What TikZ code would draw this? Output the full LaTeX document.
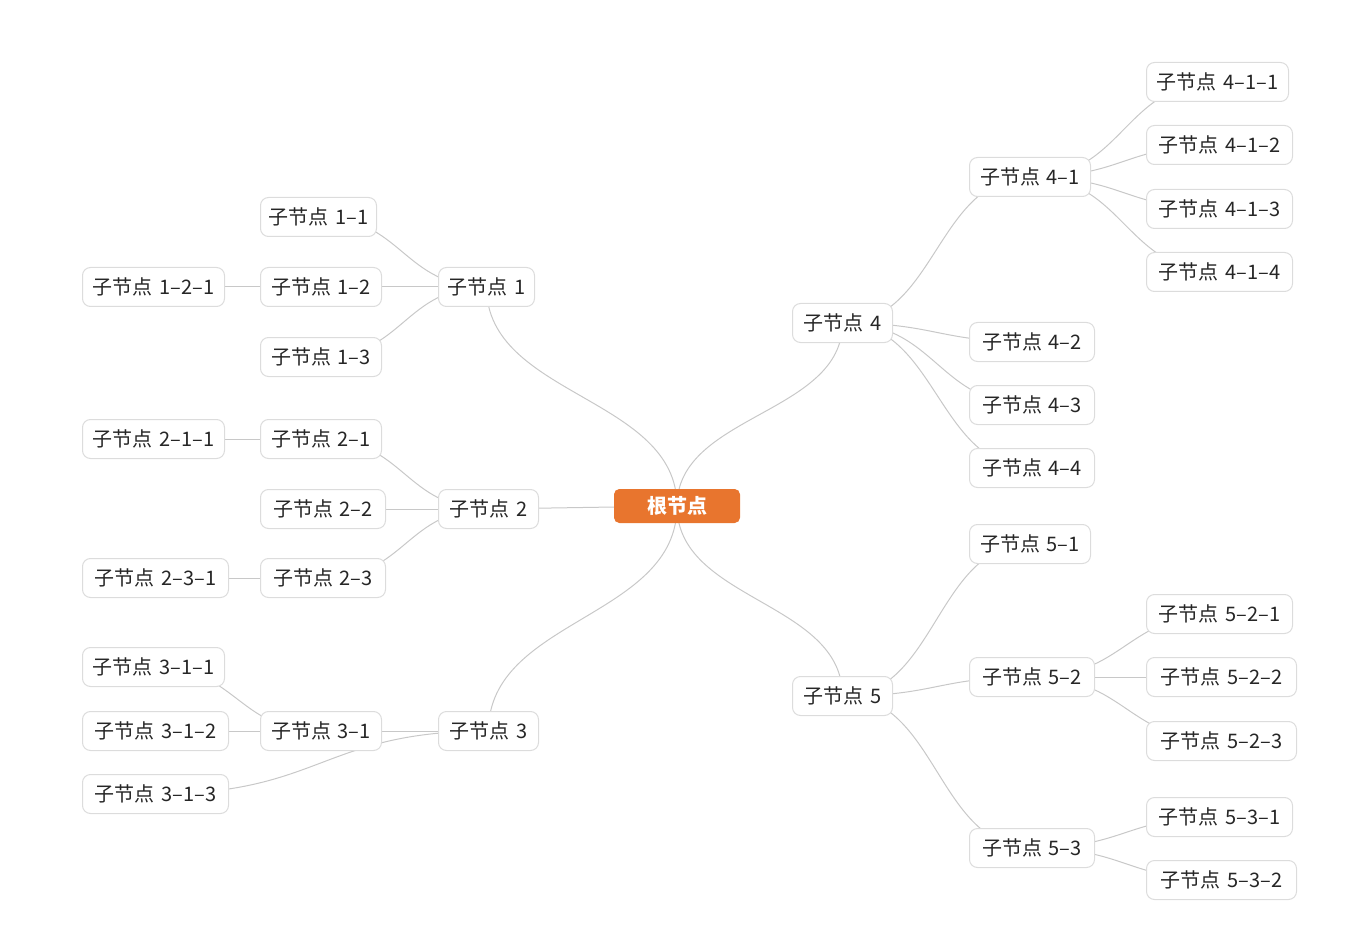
\documentclass[tikz,border=0pt]{standalone}
\usepackage{fontspec}
\setmainfont{Noto Sans CJK SC}
\newfontfamily\topicf{Noto Sans CJK SC}[WordSpace=1.45]
\usetikzlibrary{calc,backgrounds}
\definecolor{edgec}{RGB}{200,200,200}
\definecolor{boxc}{RGB}{220,220,220}
\definecolor{txtc}{RGB}{38,38,38}
\definecolor{rootc}{RGB}{232,117,46}
\begin{document}
\begin{tikzpicture}[x=0.75pt,y=-0.75pt,
  topic/.style={draw=boxc,line width=0.75pt,fill=white,rounded corners=6pt,
    minimum height=29.25pt,inner xsep=3pt,inner ysep=0pt,anchor=west,
    text=txtc,font=\topicf\fontsize{15pt}{17pt}\selectfont},
  bw/.style={minimum width=#1*0.75pt},
  rootbox/.style={fill=rootc,rounded corners=4pt,minimum width=94.5pt,
    minimum height=25.5pt,inner sep=0pt,text=white,
    font=\fontsize{15pt}{17pt}\selectfont\bfseries},
  link/.style={draw=edgec,line width=0.75pt},
  hc/.style={to path={let \p1=(\tikztostart),\p2=(\tikztotarget) in
    .. controls ({0.5*\x1+0.5*\x2},\y1) and ({0.5*\x1+0.5*\x2},\y2) .. (\tikztotarget)}},
  vc/.style={to path={let \p1=(\tikztostart),\p2=(\tikztotarget) in
    .. controls (\x1,{0.5*\y1+0.5*\y2}) and (\x2,{0.5*\y1+0.5*\y2}) .. (\tikztotarget)}}]
\useasboundingbox (0,0) rectangle (1360,952);
\node[rootbox] (root) at (677,506) {根节点};
% left side
\node[topic,bw=96] (n1) at (438,287) {子节点 1};
\node[topic,bw=100] (n2) at (438,509) {子节点 2};
\node[topic,bw=100] (n3) at (438,731) {子节点 3};
\node[topic,bw=116] (n11) at (260,217) {子节点 1–1};
\node[topic,bw=121] (n12) at (260,287) {子节点 1–2};
\node[topic,bw=121] (n13) at (260,357) {子节点 1–3};
\node[topic,bw=142] (n121) at (82,287) {子节点 1–2–1};
\node[topic,bw=121] (n21) at (260,439) {子节点 2–1};
\node[topic,bw=125] (n22) at (260,509) {子节点 2–2};
\node[topic,bw=125] (n23) at (260,578) {子节点 2–3};
\node[topic,bw=142] (n211) at (82,439) {子节点 2–1–1};
\node[topic,bw=146] (n231) at (82,578) {子节点 2–3–1};
\node[topic,bw=121] (n31) at (260,731) {子节点 3–1};
\node[topic,bw=142] (n311) at (82,667) {子节点 3–1–1};
\node[topic,bw=146] (n312) at (82,731) {子节点 3–1–2};
\node[topic,bw=146] (n313) at (82,794) {子节点 3–1–3};
% right side
\node[topic,bw=100] (n4) at (792,323) {子节点 4};
\node[topic,bw=100] (n5) at (792,696) {子节点 5};
\node[topic,bw=121] (n41) at (969,177) {子节点 4–1};
\node[topic,bw=125] (n42) at (969,342) {子节点 4–2};
\node[topic,bw=125] (n43) at (969,405) {子节点 4–3};
\node[topic,bw=125] (n44) at (969,468) {子节点 4–4};
\node[topic,bw=142] (n411) at (1146,82) {子节点 4–1–1};
\node[topic,bw=146] (n412) at (1146,145) {子节点 4–1–2};
\node[topic,bw=146] (n413) at (1146,209) {子节点 4–1–3};
\node[topic,bw=146] (n414) at (1146,272) {子节点 4–1–4};
\node[topic,bw=121] (n51) at (969,544) {子节点 5–1};
\node[topic,bw=125] (n52) at (969,677) {子节点 5–2};
\node[topic,bw=125] (n53) at (969,848) {子节点 5–3};
\node[topic,bw=146] (n521) at (1146,614) {子节点 5–2–1};
\node[topic,bw=150] (n522) at (1146,677) {子节点 5–2–2};
\node[topic,bw=150] (n523) at (1146,741) {子节点 5–2–3};
\node[topic,bw=146] (n531) at (1146,817) {子节点 5–3–1};
\node[topic,bw=150] (n532) at (1146,880) {子节点 5–3–2};
\begin{scope}[on background layer]
  \draw[link] (root.center) to[vc] (n1.center);
  \draw[link] (root.center) -- (n2.center);
  \draw[link] (root.center) to[vc] (n3.center);
  \draw[link] (root.center) to[vc] (n4.center);
  \draw[link] (root.center) to[vc] (n5.center);
  \foreach \a/\b in {n11/n1,n12/n1,n13/n1,n121/n12,
      n21/n2,n22/n2,n23/n2,n211/n21,n231/n23,
      n31/n3,n311/n31,n312/n31,n313/n3,
      n4/n41,n4/n42,n4/n43,n4/n44,
      n41/n411,n41/n412,n41/n413,n41/n414,
      n5/n51,n5/n52,n5/n53,
      n52/n521,n52/n522,n52/n523,n53/n531,n53/n532}
    \draw[link] (\a.center) to[hc] (\b.center);
\end{scope}
\end{tikzpicture}
\end{document}
